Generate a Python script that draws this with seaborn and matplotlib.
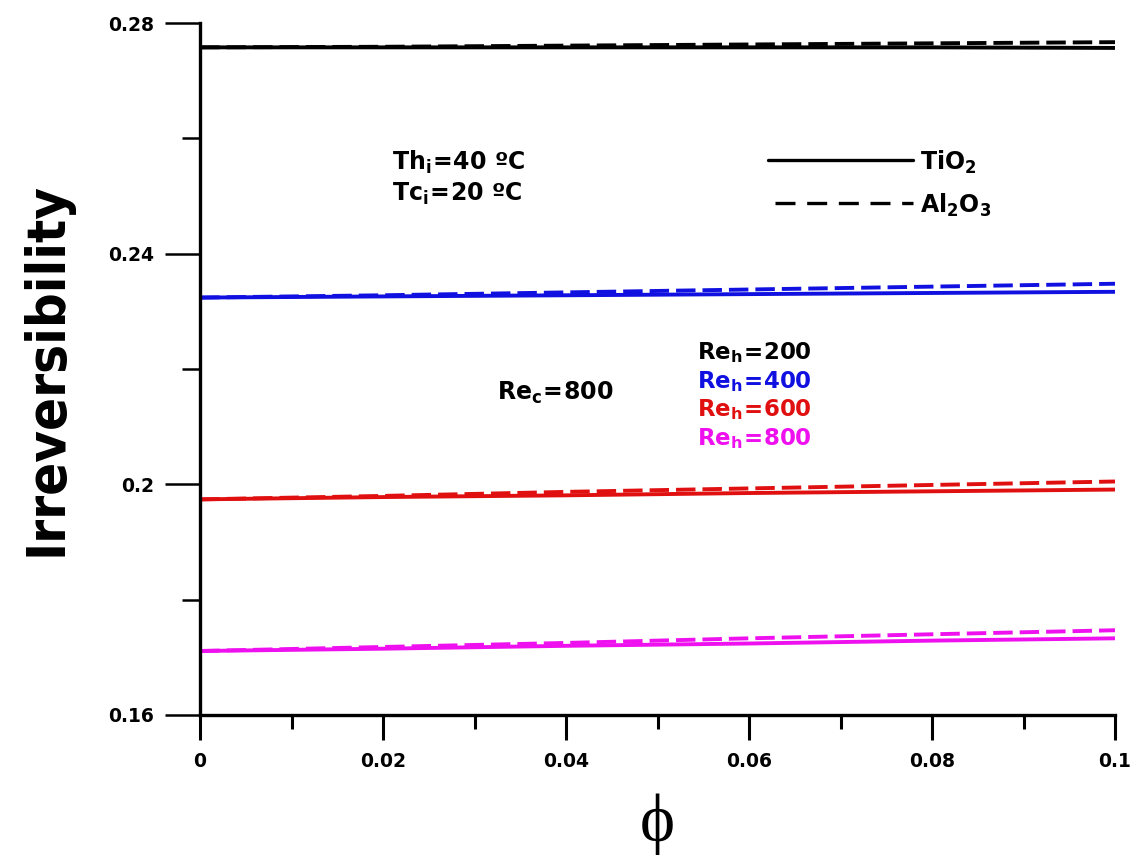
import numpy as np
import pandas as pd
import matplotlib
matplotlib.use("Agg")
import matplotlib.pyplot as plt
import seaborn as sns
from matplotlib.ticker import FixedLocator
from matplotlib.lines import Line2D

sns.set_theme(style="ticks")
plt.rcParams['font.family'] = ['DejaVu Sans']
plt.rcParams['mathtext.fontset'] = 'custom'
plt.rcParams['mathtext.rm'] = 'DejaVu Sans:bold'
plt.rcParams['mathtext.it'] = 'DejaVu Sans:bold'
plt.rcParams['mathtext.bf'] = 'DejaVu Sans:bold'

phi = [0.0, 0.02, 0.04, 0.06, 0.08, 0.10]
re_h_labels = ["200", "400", "600", "800"]
colors = ["#000000", "#1010e0", "#e01010", "#ee10ee"]

tio2_200 = [0.2758, 0.2758, 0.2758, 0.2758, 0.2758, 0.2757]
al2o3_200 = [0.2758, 0.2759, 0.2761, 0.2763, 0.2765, 0.2767]
tio2_400 = [0.2324, 0.2326, 0.2328, 0.2330, 0.2332, 0.2334]
al2o3_400 = [0.2324, 0.2328, 0.2333, 0.2338, 0.2343, 0.2348]
tio2_600 = [0.1974, 0.1978, 0.1981, 0.1985, 0.1988, 0.1991]
al2o3_600 = [0.1974, 0.1980, 0.1987, 0.1993, 0.1999, 0.2005]
tio2_800 = [0.1711, 0.1715, 0.1720, 0.1724, 0.1729, 0.1733]
al2o3_800 = [0.1711, 0.1718, 0.1725, 0.1733, 0.1740, 0.1747]

series = {
    ("200", "TiO2"): tio2_200, ("200", "Al2O3"): al2o3_200,
    ("400", "TiO2"): tio2_400, ("400", "Al2O3"): al2o3_400,
    ("600", "TiO2"): tio2_600, ("600", "Al2O3"): al2o3_600,
    ("800", "TiO2"): tio2_800, ("800", "Al2O3"): al2o3_800,
}
rows = []
for (re, mat), vals in series.items():
    for x, y in zip(phi, vals):
        rows.append({"phi": x, "irr": y, "Re": re, "mat": mat})
df = pd.DataFrame(rows)

fig = plt.figure(figsize=(11.37, 8.57), dpi=100)
ax = fig.add_axes([0.176, 0.1657, 0.8047, 0.8073])

sns.lineplot(data=df, x="phi", y="irr", hue="Re", style="mat",
             hue_order=re_h_labels, palette=dict(zip(re_h_labels, colors)),
             style_order=["TiO2", "Al2O3"],
             dashes={"TiO2": "", "Al2O3": (5.0, 1.8)},
             linewidth=2.8, legend=False, ax=ax, estimator=None)

ax.set_xlim(0, 0.1)
ax.set_ylim(0.16, 0.28)
for s in ["top", "right"]:
    ax.spines[s].set_visible(False)
for s in ["left", "bottom"]:
    ax.spines[s].set_linewidth(2.4)
    ax.spines[s].set_color("black")

ax.xaxis.set_major_locator(FixedLocator([0, 0.02, 0.04, 0.06, 0.08, 0.1]))
ax.xaxis.set_minor_locator(FixedLocator([0.01, 0.03, 0.05, 0.07, 0.09]))
ax.yaxis.set_major_locator(FixedLocator([0.16, 0.2, 0.24, 0.28]))
ax.yaxis.set_minor_locator(FixedLocator([0.18, 0.22, 0.26]))
ax.set_xticklabels(["0", "0.02", "0.04", "0.06", "0.08", "0.1"])
ax.set_yticklabels(["0.16", "0.2", "0.24", "0.28"])

ax.tick_params(axis="x", which="major", direction="out", length=18, width=2.2, pad=9,
               colors="black")
ax.tick_params(axis="x", which="minor", direction="out", length=10, width=2.2, colors="black")
ax.tick_params(axis="y", which="major", direction="out", length=25, width=1.8, pad=8,
               colors="black")
ax.tick_params(axis="y", which="minor", direction="out", length=13, width=1.8, colors="black")

for lab in ax.get_xticklabels():
    lab.set_fontweight("bold")
    lab.set_fontsize(13.5)
for lab in ax.get_yticklabels():
    lab.set_fontweight("bold")
    lab.set_fontsize(13.5)

ax.set_xlabel("ϕ", family=['Liberation Serif', 'DejaVu Serif'], fontsize=48, labelpad=16,
              color="black")
ax.set_ylabel("Irreversibility", family=['DejaVu Sans'], fontstretch="condensed",
              fontweight="bold", fontsize=39, labelpad=26, color="black")

def ftxt(px, py, s, color="black", size=17):
    fig.text(px / 1137, 1 - py / 857, s, color=color, fontsize=size,
             fontweight="bold", va="center", ha="left")

ftxt(392, 162, r"$\mathrm{Th_{i}\!=\!40\ ºC}$")
ftxt(392, 194, r"$\mathrm{Tc_{i}\!=\!20\ ºC}$")
ftxt(920, 162, r"$\mathrm{TiO_{2}}$")
ftxt(920, 205, r"$\mathrm{Al_{2}O_{3}}$")
ftxt(497, 393, r"$\mathrm{Re_{c}\!=\!800}$")
for i, (lab, c) in enumerate(zip(re_h_labels, colors)):
    ftxt(697, 353 + i * 28.5, r"$\mathrm{Re_{h}\!=\!%s}$" % lab, color=c, size=16.5)

fig.add_artist(Line2D([768 / 1137, 913 / 1137], [1 - 160 / 857] * 2, color="black", lw=2.4))
fig.add_artist(Line2D([775 / 1137, 913 / 1137], [1 - 203 / 857] * 2, color="black", lw=2.4,
                      dashes=(6, 3.5)))

fig.savefig("out.png", dpi=100)
